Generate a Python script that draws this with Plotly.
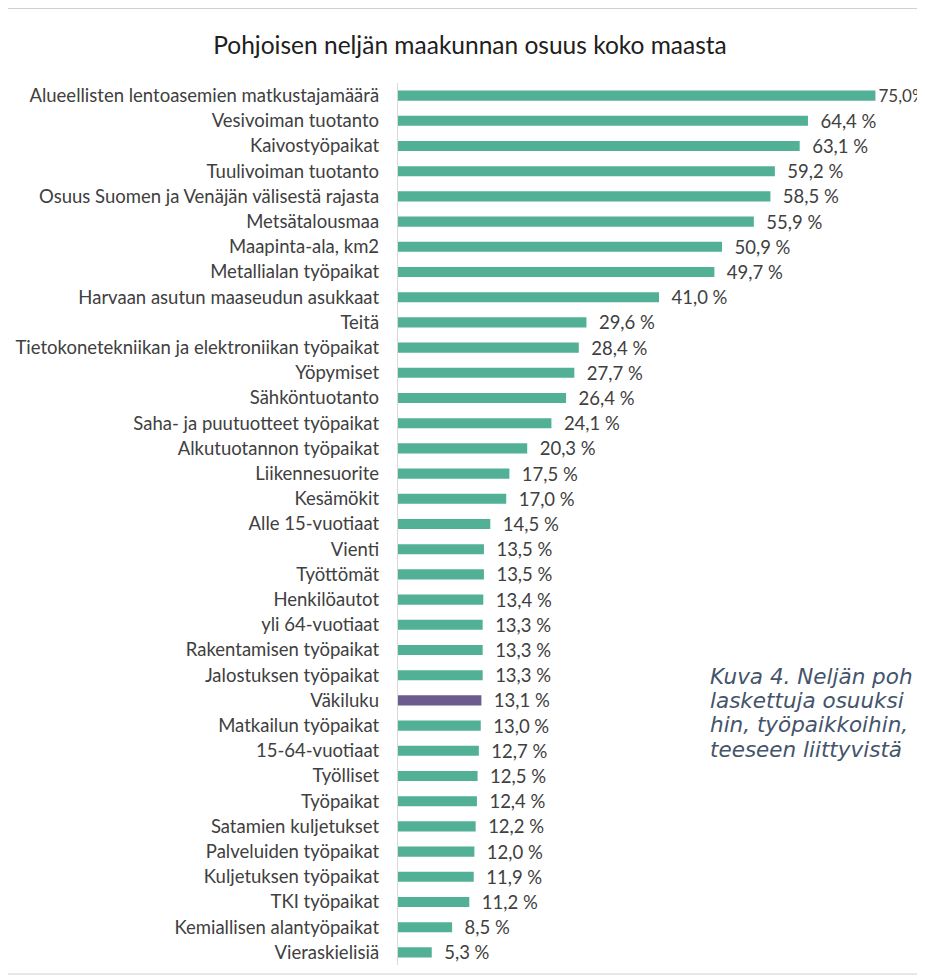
import plotly.graph_objects as go

categories = [
    "Alueellisten lentoasemien matkustajamäärä",
    "Vesivoiman tuotanto",
    "Kaivostyöpaikat",
    "Tuulivoiman tuotanto",
    "Osuus Suomen ja Venäjän välisestä rajasta",
    "Metsätalousmaa",
    "Maapinta-ala, km2",
    "Metallialan työpaikat",
    "Harvaan asutun maaseudun asukkaat",
    "Teitä",
    "Tietokonetekniikan ja elektroniikan työpaikat",
    "Yöpymiset",
    "Sähköntuotanto",
    "Saha- ja puutuotteet työpaikat",
    "Alkutuotannon työpaikat",
    "Liikennesuorite",
    "Kesämökit",
    "Alle 15-vuotiaat",
    "Vienti",
    "Työttömät",
    "Henkilöautot",
    "yli 64-vuotiaat",
    "Rakentamisen työpaikat",
    "Jalostuksen työpaikat",
    "Väkiluku",
    "Matkailun työpaikat",
    "15-64-vuotiaat",
    "Työlliset",
    "Työpaikat",
    "Satamien kuljetukset",
    "Palveluiden työpaikat",
    "Kuljetuksen työpaikat",
    "TKI työpaikat",
    "Kemiallisen alantyöpaikat",
    "Vieraskielisiä",
]
values = [75.0, 64.4, 63.1, 59.2, 58.5, 55.9, 50.9, 49.7, 41.0, 29.6, 28.4, 27.7,
          26.4, 24.1, 20.3, 17.5, 17.0, 14.5, 13.5, 13.5, 13.4, 13.3, 13.3, 13.3,
          13.1, 13.0, 12.7, 12.5, 12.4, 12.2, 12.0, 11.9, 11.2, 8.5, 5.3]
highlight = "Väkiluku"

title_text = "Pohjoisen neljän maakunnan osuus koko maasta"
caption_lines = [
    "Kuva 4. Neljän poh",
    "laskettuja osuuksi",
    "hin, työpaikkoihin,",
    "teeseen liittyvistä",
]

TEAL = "#52B096"
PURPLE = "#6C5B8F"
colors = [PURPLE if c == highlight else TEAL for c in categories]
vmax = max(values)
labels = []
sizes = []
for v in values:
    num = f"{v:.1f}".replace(".", ",")
    if v == vmax:
        labels.append(num + "%")
        sizes.append(17)
    else:
        labels.append("  " + num + " %")
        sizes.append(18.5)

W, H = 917, 969
L, R, T, B = 390, 5, 75, 12
PH = H - T - B

fig = go.Figure(go.Bar(
    x=values, y=categories, orientation="h",
    marker=dict(color=colors, line=dict(width=0)),
    width=0.40,
    text=labels, textposition="outside", cliponaxis=False,
    constraintext="none",
    textfont=dict(family="Lato", size=sizes, color="#404040"),
    hoverinfo="x+y",
))

fig.update_layout(
    width=W, height=H,
    margin=dict(l=L, r=R, t=T, b=B),
    paper_bgcolor="white", plot_bgcolor="white",
    showlegend=False,
    title=dict(text=title_text, x=462 / W, xanchor="center", y=1 - 37 / H, yanchor="middle",
               font=dict(family="Lato", size=24.5, color="#202020")),
    xaxis=dict(range=[0, 82], visible=False, fixedrange=True),
    yaxis=dict(autorange="reversed", showline=True, linecolor="#D9D9D9", linewidth=1,
               ticks="", showgrid=False, tickfont=dict(family="Lato", size=18.5, color="#404040"),
               ticksuffix="   ", categoryorder="array", categoryarray=categories),
)

# outer frame
fig.add_shape(type="rect", xref="paper", yref="paper",
              x0=(-0.5 - L) / (W - L - R), x1=1.2,
              y0=(T + PH - 966) / PH, y1=(T + PH - 0.5) / PH,
              line=dict(color="#D0D0D0", width=1), fillcolor="rgba(0,0,0,0)", layer="below")

for i, line in enumerate(caption_lines):
    fy = 676 + 24.5 * i - 8
    fig.add_annotation(text=line, xref="paper", yref="paper",
                       x=(700 - L) / (W - L - R), y=(T + PH - fy) / PH,
                       xanchor="left", yanchor="middle", showarrow=False,
                       font=dict(family="DejaVu Sans", size=21.5, color="#44546A", style="italic"))

fig.write_html("out.html")
